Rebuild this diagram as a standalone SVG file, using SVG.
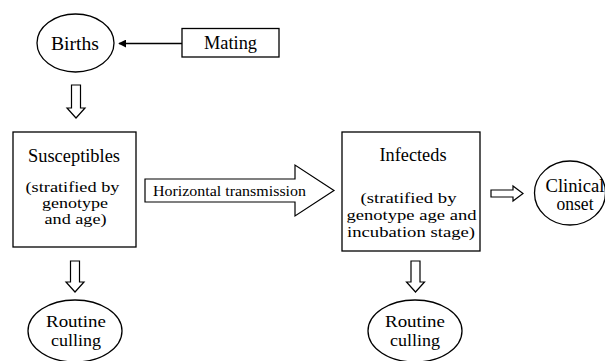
<svg xmlns="http://www.w3.org/2000/svg" width="605" height="361" viewBox="0 0 605 361">
<style>
.shape{fill:#fff;stroke:#000;stroke-width:1.3}
.blk{fill:#fff;stroke:#000;stroke-width:1.2;stroke-linejoin:miter}
text{font-family:"Liberation Serif","DejaVu Serif","Noto Serif","Times New Roman",serif;font-size:18px;fill:#000;text-anchor:middle}
.sm{font-size:15px}
.sub{font-size:15px}
.cul{font-size:16.5px}
</style>
<defs>
<marker id="ah" viewBox="0 0 10 10" refX="9" refY="5" markerWidth="8" markerHeight="8" markerUnits="userSpaceOnUse" orient="auto">
<path d="M0,0 L10,5 L0,10 Z" fill="#000"/>
</marker>
</defs>
<rect width="605" height="361" fill="#fff"/>
<g id="connectors">
<line x1="182" y1="43.5" x2="119" y2="43.5" stroke="#000" stroke-width="1.3" marker-end="url(#ah)"/>
<path class="blk" d="M71.5,85 L80.5,85 L80.5,108 L85,108 L76,118 L67,108 L71.5,108 Z"/>
<path class="blk" d="M145,179 L295,179 L295,165 L334,190.5 L295,216 L295,202 L145,202 Z"/>
<text class="sm" x="229.5" y="195.5" textLength="153" lengthAdjust="spacingAndGlyphs">Horizontal transmission</text>
<path class="blk" d="M491,190 L513,190 L513,186 L523,193.5 L513,201 L513,197 L491,197 Z"/>
<path class="blk" d="M70.5,261 L79.5,261 L79.5,282 L84,282 L75,292 L66,282 L70.5,282 Z"/>
<path class="blk" d="M411,261 L420,261 L420,282 L424.5,282 L415.5,292 L406.5,282 L411,282 Z"/>
</g>
<g id="births">
<ellipse class="shape" cx="75.5" cy="43" rx="38.5" ry="29"/>
<text x="75" y="50" textLength="48" lengthAdjust="spacingAndGlyphs">Births</text>
</g>
<g id="mating">
<rect class="shape" x="182" y="28.5" width="97" height="28.5"/>
<text x="230.5" y="49" textLength="53" lengthAdjust="spacingAndGlyphs">Mating</text>
</g>
<g id="susceptibles">
<rect class="shape" x="13" y="132" width="123" height="115"/>
<text x="74" y="162" textLength="92" lengthAdjust="spacingAndGlyphs">Susceptibles</text>
<text class="sub" x="72.5" y="192" textLength="94" lengthAdjust="spacingAndGlyphs">(stratified by</text>
<text class="sub" x="75" y="207.5" textLength="66" lengthAdjust="spacingAndGlyphs">genotype</text>
<text class="sub" x="75.5" y="223.5" textLength="62" lengthAdjust="spacingAndGlyphs">and age)</text>
</g>
<g id="infecteds">
<rect class="shape" x="342" y="132" width="138" height="119"/>
<text x="413" y="160.7" textLength="67" lengthAdjust="spacingAndGlyphs">Infecteds</text>
<text class="sub" x="408.5" y="202.7" textLength="96" lengthAdjust="spacingAndGlyphs">(stratified by</text>
<text class="sub" x="411.5" y="220" textLength="130" lengthAdjust="spacingAndGlyphs">genotype age and</text>
<text class="sub" x="411" y="237" textLength="128" lengthAdjust="spacingAndGlyphs">incubation stage)</text>
</g>
<g id="clinical-onset">
<ellipse class="shape" cx="570" cy="193" rx="35.5" ry="32"/>
<text x="575" y="191.5" textLength="59" lengthAdjust="spacingAndGlyphs">Clinical</text>
<text x="575" y="210" textLength="37" lengthAdjust="spacingAndGlyphs">onset</text>
</g>
<g id="culling-left">
<ellipse class="shape" cx="75" cy="331" rx="47" ry="31"/>
<text class="cul" x="76" y="327" textLength="60" lengthAdjust="spacingAndGlyphs">Routine</text>
<text class="cul" x="76" y="345.5" textLength="50" lengthAdjust="spacingAndGlyphs">culling</text>
</g>
<g id="culling-right">
<ellipse class="shape" cx="415" cy="331" rx="47" ry="31"/>
<text class="cul" x="415" y="327" textLength="60" lengthAdjust="spacingAndGlyphs">Routine</text>
<text class="cul" x="415" y="345.5" textLength="50" lengthAdjust="spacingAndGlyphs">culling</text>
</g>
</svg>
